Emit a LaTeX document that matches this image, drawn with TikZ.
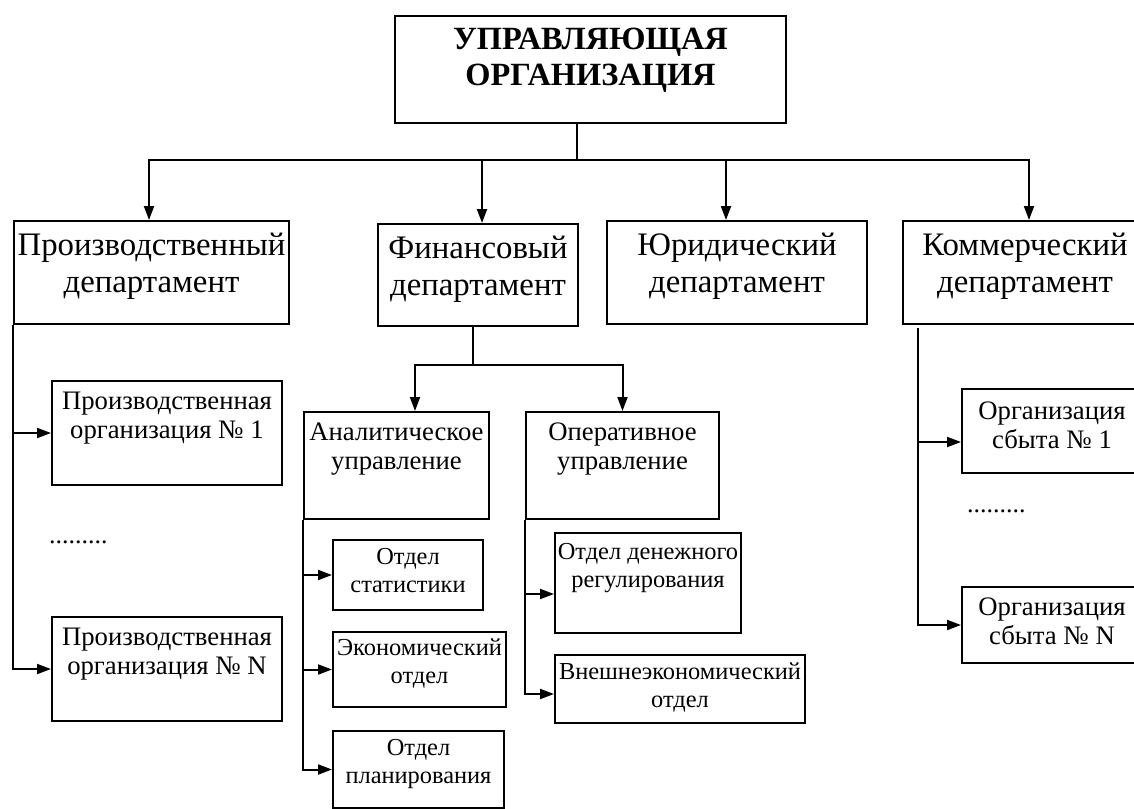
\documentclass[tikz,border=0pt]{standalone}
\usepackage{fontspec}
\setmainfont{Liberation Serif}
\usetikzlibrary{arrows.meta}
% box text: width, height, first baseline, two centred lines
\newcommand{\bx}[5]{\parbox[t][#2][t]{#1}{\centering\rule{0pt}{#3}\makebox[0pt]{#4}\\\makebox[0pt]{#5}}}

\begin{document}
\begin{tikzpicture}[x=1pt,y=-1pt,line width=2pt,
box/.style={draw,inner sep=0pt,anchor=north west},
dept/.style={box,font=\fontsize{32.8}{37}\selectfont},
unit/.style={box,font=\fontsize{26.7}{29.5}\selectfont},
small/.style={box,font=\fontsize{24.4}{28}\selectfont},
dots/.style={anchor=base west,inner sep=0pt,font=\fontsize{26}{29}\selectfont},
arr/.style={-{Triangle[length=14pt,width=10pt]}}]
\useasboundingbox (0,0) rectangle (1134,808);
\node[box,font=\bfseries\fontsize{32.4}{36}\selectfont] (upr) at (394,15) {\bx{391pt}{107pt}{33pt}{УПРАВЛЯЮЩАЯ}{ОРГАНИЗАЦИЯ}};
\node[dept] (proizv) at (13,220) {\bx{275pt}{103pt}{34pt}{Производственный}{департамент}};
\node[dept] (fin) at (377,223) {\bx{200pt}{102pt}{34pt}{Финансовый}{департамент}};
\node[dept] (yur) at (606,220) {\bx{260pt}{103pt}{34pt}{Юридический}{департамент}};
\node[dept] (komm) at (902,220) {\bx{244pt}{103pt}{34pt}{Коммерческий}{департамент}};
\node[unit] (org1) at (51,380) {\bx{230pt}{104pt}{28pt}{Производственная}{организация № 1}};
\node[unit] (orgN) at (51,616) {\bx{230pt}{104pt}{28pt}{Производственная}{организация № N}};
\node[dots] (dots1) at (48,543) {.........};
\node[unit] (anal) at (303,411) {\bx{185pt}{107pt}{28pt}{Аналитическое}{управление}};
\node[unit] (oper) at (525,411) {\bx{193pt}{107pt}{28pt}{Оперативное}{управление}};
\node[small] (stat) at (332,539) {\bx{150pt}{70pt}{24pt}{Отдел}{статистики}};
\node[small] (econ) at (332,631) {\bx{173pt}{75pt}{23pt}{Экономический}{отдел}};
\node[small] (plan) at (332,730) {\bx{171pt}{77pt}{24pt}{Отдел}{планирования}};
\node[small] (den) at (554,532) {\bx{186pt}{100pt}{26pt}{Отдел денежного}{регулирования}};
\node[small] (vnesh) at (554,654) {\bx{250pt}{68pt}{24pt}{Внешнеэкономический}{отдел}};
\node[unit] (sb1) at (961,388) {\bx{180pt}{84pt}{30pt}{Организация}{сбыта № 1}};
\node[unit] (sbN) at (961,586) {\bx{180pt}{76pt}{28pt}{Организация}{сбыта № N}};
\node[dots] (dots2) at (966,512) {.........};
% top level
\coordinate (bus) at (577,160);
\draw (upr.south -| bus) -- (bus);
\draw[arr] (bus) -| ([xshift=-2.5pt]proizv.north);
\draw[arr] (bus) -| ([xshift=4pt]fin.north);
\draw[arr] (bus) -| ([xshift=-11pt]yur.north);
\draw[arr] (bus) -| ([xshift=4pt]komm.north);
% production
\draw[arr] (proizv.south west) |- (org1.west);
\draw[arr] (proizv.south west) |- (orgN.west);
% finance
\coordinate (finbus) at (473,365);
\draw (fin.south -| finbus) -- (finbus);
\draw[arr] (finbus) -| ([xshift=18.5pt]anal.north);
\draw[arr] (finbus) -| (oper.north);
\draw[arr] (anal.south west) |- (stat.west);
\draw[arr] (anal.south west) |- (econ.west);
\draw[arr] (anal.south west) |- (plan.west);
\draw[arr] (oper.south west) |- ([yshift=-11pt]den.west);
\draw[arr] (oper.south west) |- ([yshift=-5pt]vnesh.west);
% commerce
\coordinate (kommtop) at (918,328);
\draw[arr] (kommtop) |- ([yshift=-11pt]sb1.west);
\draw[arr] (kommtop) |- (sbN.west);
\end{tikzpicture}
\end{document}
